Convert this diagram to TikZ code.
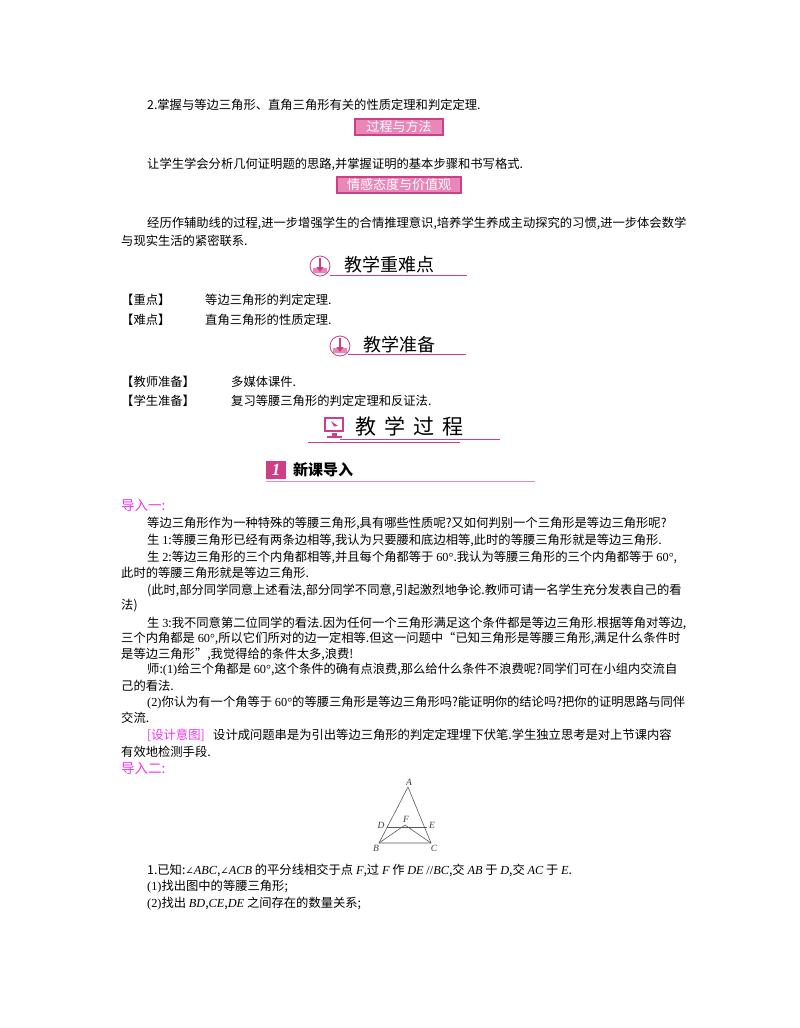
\documentclass[tikz,border=0pt]{standalone}
\usepackage{fontspec}
\usetikzlibrary{arrows.meta}
\setmainfont{Noto Sans CJK SC}
\newfontfamily\ser{Liberation Serif}
\newfontfamily\dvs{DejaVu Serif}
\newcommand{\lat}[1]{{\ser\itshape #1}}
\newcommand{\num}[1]{{\ser #1}}
\newcommand{\ang}{{\dvs\fontsize{10}{12}\selectfont ∠}}
\definecolor{mag}{HTML}{F030F0}
\definecolor{pk}{HTML}{D03F86}
\definecolor{pkl}{HTML}{E987B8}
\begin{document}
\begin{tikzpicture}[x=1pt,y=-1pt,
  tx/.style={anchor=west,inner sep=0pt,font=\fontsize{12.3}{14}\selectfont},
  hd/.style={anchor=west,inner sep=0pt,font=\fontsize{18}{20}\selectfont},
  tag/.style={draw=pk,line width=1.2pt,fill=pkl,text=white,inner sep=1.5pt,font=\fontsize{13}{15}\selectfont},
  uline/.style={pk,line width=1pt}]
\useasboundingbox (0,0) rectangle (800,1028);
\node[tx] (l1) at (147,105) {2.掌握与等边三角形、直角三角形有关的性质定理和判定定理.};
\node[tag,minimum width=88pt,minimum height=16pt] (b1) at (399,127) {过程与方法};
\node[tx] (l2) at (147,164) {让学生学会分析几何证明题的思路,并掌握证明的基本步骤和书写格式.};
\node[tag,minimum width=124pt,minimum height=16pt] (b2) at (399,185) {情感态度与价值观};
\node[tx] (l3) at (147,223) {经历作辅助线的过程,进一步增强学生的合情推理意识,培养学生养成主动探究的习惯,进一步体会数学};
\node[tx] (l4) at (121,241) {与现实生活的紧密联系.};
% heading 1
\node[circle,draw=pk,fill=white,line width=0.8pt,minimum size=20pt] (i1) at (320,266) {};
\fill[pkl] (313,268) rectangle (327,273);
\draw[pk,line width=2.5pt,-{Triangle[length=5pt,width=7pt]}] (320,258) -- (320,272);
\node[hd] (h1) at (344,265) {教学重难点};
\draw[uline] (330,275) -- (467,275);
\node[tx] (z1) at (121,300) {【重点】};
\node[tx] (z2) at (205,300) {等边三角形的判定定理.};
\node[tx] (n1) at (121,320) {【难点】};
\node[tx] (n2) at (205,320) {直角三角形的性质定理.};
% heading 2
\node[circle,draw=pk,fill=white,line width=0.8pt,minimum size=20pt] (i2) at (340,346) {};
\fill[pkl] (333,348) rectangle (347,353);
\draw[pk,line width=2.5pt,-{Triangle[length=5pt,width=7pt]}] (340,338) -- (340,352);
\node[hd] (h2) at (363,345) {教学准备};
\draw[uline] (348,354) -- (466,354);
\node[tx] (t1) at (121,382) {【教师准备】};
\node[tx] (t2) at (231,382) {多媒体课件.};
\node[tx] (s1) at (121,401) {【学生准备】};
\node[tx] (s2) at (231,401) {复习等腰三角形的判定定理和反证法.};
% heading 3
\draw[pk,fill=white,line width=1.8pt] (325,418) rectangle (343,431);
\fill[pk] (332,433) rectangle (337,436);
\fill[pk] (327,436) rectangle (342,438);
\fill[pk] (331,421) -- (338,426) -- (334,426.5) -- cycle;
\node[anchor=west,inner sep=0pt,font=\fontsize{21}{22}\selectfont] (h3) at (355,426) {教\hspace{8pt}学\hspace{8pt}过\hspace{8pt}程};
\draw[uline,line width=0.8pt] (340,439) -- (500,439);
\draw[uline,line width=0.8pt] (308,442) -- (460,442);
% heading 4
\fill[pk] (266,461) rectangle (286,479);
\node[text=white,inner sep=0pt,font=\ser\bfseries\itshape\fontsize{17}{17}\selectfont] (one) at (276,470) {1};
\node[anchor=west,inner sep=0pt,font=\bfseries\fontsize{15}{17}\selectfont] (h4) at (293,470) {新课导入};
\draw[uline,pkl,line width=0.8pt] (266,481) -- (535,481);
% body
\node[tx,text=mag,font=\fontsize{13.5}{15}\selectfont] (d1) at (121,505) {导入一:};
\node[tx] (p1) at (147,523) {等边三角形作为一种特殊的等腰三角形,具有哪些性质呢?又如何判别一个三角形是等边三角形呢?};
\node[tx] (p2) at (147,540) {生 \num{1}:等腰三角形已经有两条边相等,我认为只要腰和底边相等,此时的等腰三角形就是等边三角形.};
\node[tx] (p3) at (147,557) {生 \num{2}:等边三角形的三个内角都相等,并且每个角都等于 \num{60°}.我认为等腰三角形的三个内角都等于 \num{60°},};
\node[tx] (p4) at (121,573) {此时的等腰三角形就是等边三角形.};
\node[tx] (p5) at (147,590) {(此时,部分同学同意上述看法,部分同学不同意,引起激烈地争论.教师可请一名学生充分发表自己的看};
\node[tx] (p6) at (121,606) {法)};
\node[tx] (p7) at (147,623) {生 \num{3}:我不同意第二位同学的看法.因为任何一个三角形满足这个条件都是等边三角形.根据等角对等边,};
\node[tx] (p8) at (121,638) {三个内角都是 \num{60°},所以它们所对的边一定相等.但这一问题中“已知三角形是等腰三角形,满足什么条件时};
\node[tx] (p9) at (121,654) {是等边三角形”,我觉得给的条件太多,浪费!};
\node[tx] (p10) at (147,670) {师:\num{(1)}给三个角都是 \num{60°},这个条件的确有点浪费,那么给什么条件不浪费呢?同学们可在小组内交流自};
\node[tx] (p11) at (121,686) {己的看法.};
\node[tx] (p12) at (147,703) {\num{(2)}你认为有一个角等于 \num{60°}的等腰三角形是等边三角形吗?能证明你的结论吗?把你的证明思路与同伴};
\node[tx] (p13) at (121,718) {交流.};
\node[tx,text=mag] (p14a) at (147,735) {[设计意图]};
\node[tx] (p14) at (213,735) {设计成问题串是为引出等边三角形的判定定理埋下伏笔.学生独立思考是对上节课内容};
\node[tx] (p15) at (121,752) {有效地检测手段.};
\node[tx,text=mag,font=\fontsize{13.5}{15}\selectfont] (d2) at (121,768) {导入二:};
% triangle
\begin{scope}[gray!70!black,line width=0.6pt]
\coordinate (A) at (408,787);
\coordinate (B) at (379,843);
\coordinate (C) at (431,843);
\coordinate (D) at (387,827);
\coordinate (E) at (427,827);
\coordinate (F) at (405,825);
\draw (A) -- (B) -- (C) -- cycle;
\draw (D) -- (E);
\draw (B) -- (F) -- (C);
\end{scope}
\begin{scope}[font=\ser\itshape\fontsize{9.5}{9.5}\selectfont,inner sep=0pt,text=gray!50!black]
\node (LA) at (409,782) {A};
\node (LB) at (376,848) {B};
\node (LC) at (434,848) {C};
\node (LD) at (381,825) {D};
\node (LE) at (432,825) {E};
\node (LF) at (406,819) {F};
\end{scope}
\node[tx] (q1) at (147,870) {1.已知:\ang\lat{ABC},\ang\lat{ACB} 的平分线相交于点 \lat{F},过 \lat{F} 作 \lat{DE} \num{//}\lat{BC},交 \lat{AB} 于 \lat{D},交 \lat{AC} 于 \lat{E}.};
\node[tx] (q2) at (147,887) {\num{(1)}找出图中的等腰三角形;};
\node[tx] (q3) at (147,904) {\num{(2)}找出 \lat{BD},\lat{CE},\lat{DE} 之间存在的数量关系;};
\end{tikzpicture}
\end{document}
